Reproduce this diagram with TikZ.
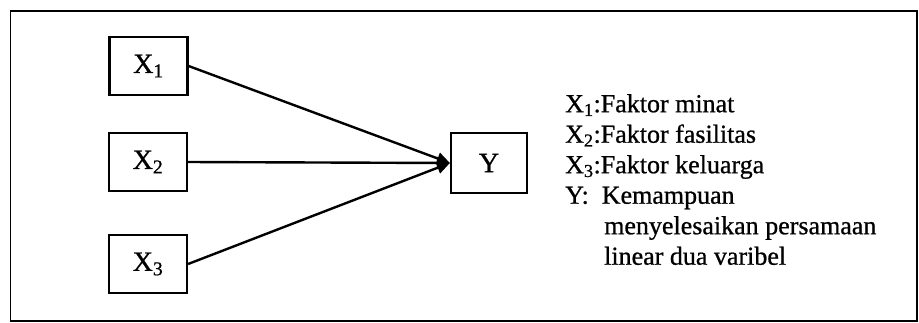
\documentclass[tikz,border=0pt]{standalone}
\usepackage{fontspec}
\setmainfont{Liberation Serif}[FakeBold=0.8]
\newfontfamily\scanfont{Liberation Serif}[FakeBold=0.8]
\usetikzlibrary{arrows.meta}
\begin{document}
\begin{tikzpicture}[x=1pt,y=-1pt,
  varbox/.style={draw,line width=2.2pt,minimum width=78pt,minimum height=58pt,inner sep=0pt,font=\scanfont\fontsize{28}{30}\selectfont},
  conn/.style={line width=2.4pt,-{Triangle[length=13pt,width=12pt]}},
  legend/.style={anchor=north west,align=left,inner sep=0pt,font=\scanfont\fontsize{26}{30.5}\selectfont}]
\useasboundingbox (0,0) rectangle (919,322);
\draw[line width=1.5pt] (10.5,11) rectangle (917,321);
\node[varbox] (x1) at (148.5,66) {X\textsubscript{1}};
\node[varbox] (x2) at (148,162) {X\textsubscript{2}};
\node[varbox] (x3) at (148,264) {X\textsubscript{3}};
\node[varbox,minimum width=76pt,minimum height=60pt] (y) at (489,163) {Y};
\draw[conn] (x1.east) -- (y.west);
\draw[conn] (x2.east) -- (y.west);
\draw[conn] (x3.east) -- (y.west);
\node[legend] (leg) at (565,94) {X\textsubscript{1}:Faktor minat\\
X\textsubscript{2}:Faktor fasilitas\\
X\textsubscript{3}:Faktor keluarga\\
Y:\hspace{0.5em}Kemampuan\\
\hspace{1.5em}menyelesaikan persamaan\\
\hspace{1.5em}linear dua varibel};
\end{tikzpicture}
\end{document}
